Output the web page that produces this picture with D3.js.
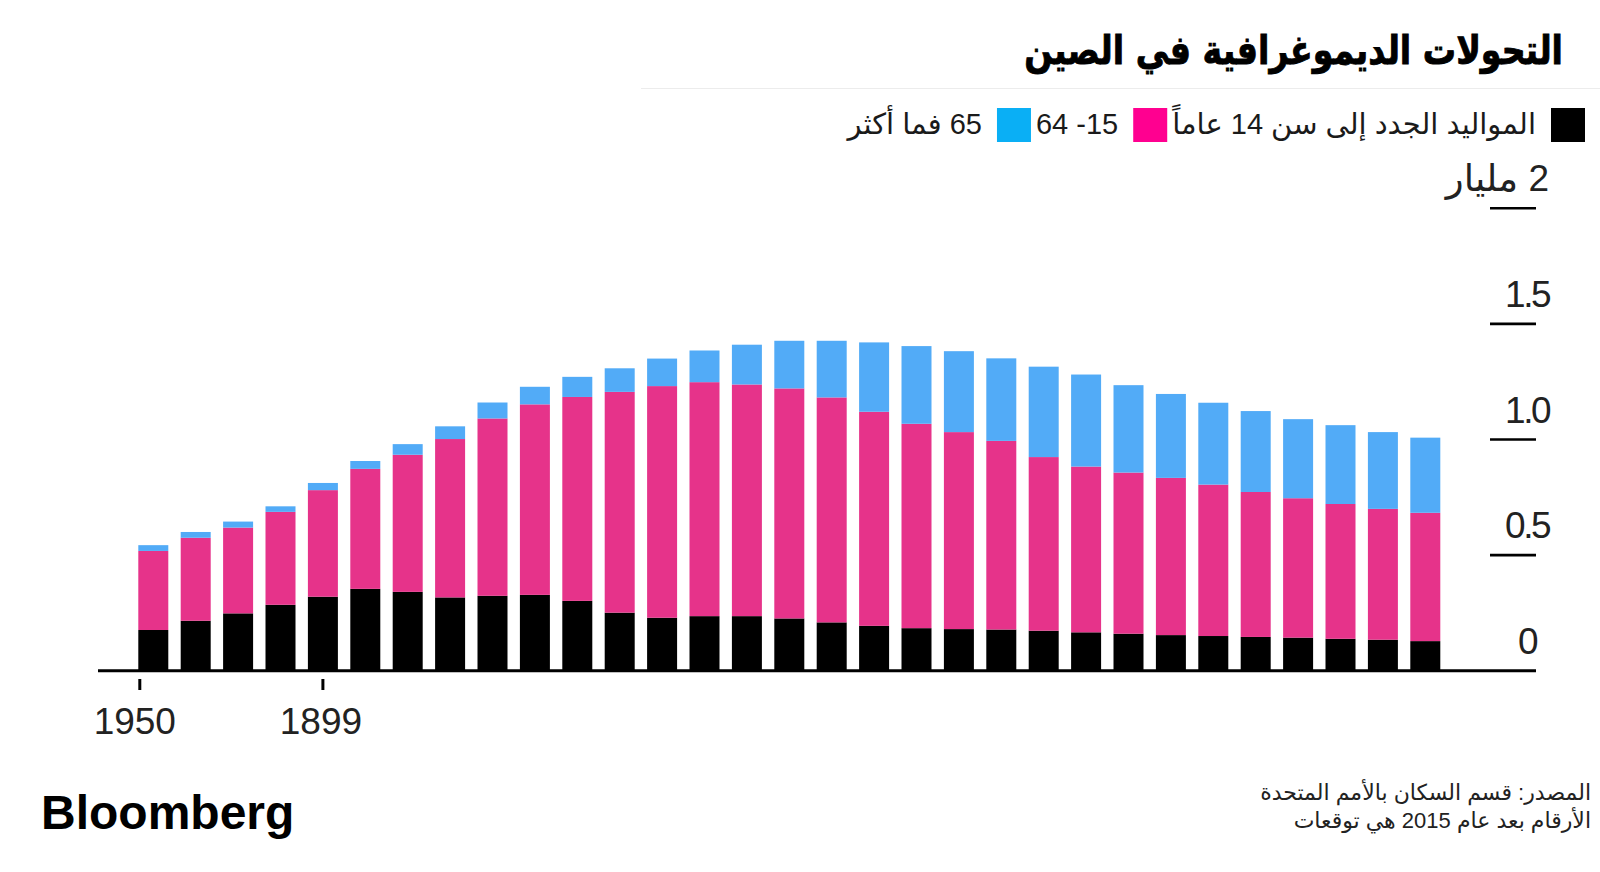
<!DOCTYPE html>
<html lang="ar">
<head>
<meta charset="utf-8">
<script src="https://cdn.jsdelivr.net/npm/d3@7"></script>
<style>
  html, body { margin: 0; padding: 0; background: #fff; }
  svg { display: block; }
  text { font-family: "Liberation Sans", "DejaVu Sans", sans-serif; fill: #1a1a1a; }
</style>
</head>
<body>
<svg id="chart" width="1600" height="872"></svg>
<script>
// ---- data ----
const years = [1950,1955,1960,1965,1970,1975,1980,1985,1990,1995,2000,2005,2010,2015,2020,2025,2030,2035,2040,2045,2050,2055,2060,2065,2070,2075,2080,2085,2090,2095,2100];
const age0to14 = [0.176,0.216,0.248,0.285,0.320,0.354,0.341,0.317,0.324,0.328,0.302,0.251,0.229,0.236,0.236,0.226,0.209,0.194,0.184,0.180,0.178,0.173,0.166,0.160,0.154,0.150,0.146,0.143,0.138,0.134,0.128];
const age15to64 = [0.342,0.359,0.371,0.402,0.461,0.519,0.593,0.685,0.767,0.824,0.882,0.955,1.002,1.012,1.002,0.995,0.973,0.926,0.884,0.852,0.816,0.751,0.717,0.697,0.680,0.655,0.627,0.603,0.583,0.566,0.555];
const age65plus = [0.025,0.025,0.026,0.024,0.031,0.034,0.046,0.055,0.069,0.076,0.087,0.102,0.119,0.137,0.172,0.206,0.245,0.300,0.336,0.350,0.357,0.391,0.398,0.378,0.363,0.354,0.350,0.342,0.341,0.332,0.325];

const seriesKeys = ["young", "working", "old"];
const seriesLabels = ["المواليد الجدد إلى سن 14 عاماً", "15- 64", "65 فما أكثر"];
const barColors = ["#000000", "#e6338a", "#52abf7"];
const legendColors = ["#000000", "#ff0090", "#0aaff5"];

const yTicks = [0, 0.5, 1.0, 1.5, 2];
const yTickLabels = ["0", "0.5", "1.0", "1.5", "2 مليار"];
const xTickLabels = ["1950", "1899"];
const xTickIndex = [0, 4];
const xTickAtCenter = [false, true];

const titleText = "التحولات الديموغرافية في الصين";
const sourceLines = ["المصدر: قسم السكان بالأمم المتحدة", "الأرقام بعد عام 2015 هي توقعات"];

// ---- build ----
const rows = years.map((y, i) => ({ year: String(y), young: age0to14[i], working: age15to64[i], old: age65plus[i] }));
const stacked = d3.stack().keys(seriesKeys)(rows);

const svg = d3.select("#chart");

const x = d3.scaleBand()
  .domain(rows.map(d => d.year))
  .range([138.3, 1440.3])
  .paddingInner(0.2925)
  .paddingOuter(0);

const y = d3.scaleLinear().domain([0, 2]).range([670.7, 208.3]);

// title (condensed horizontally to match the heavy headline face)
const titleG = svg.append("g").attr("transform", "translate(1563,64) scale(0.83,1)");
titleG.append("text")
  .attr("x", 0).attr("y", 0)
  .attr("direction", "rtl")
  .attr("text-anchor", "start")
  .style("font-family", "'DejaVu Sans', sans-serif")
  .style("font-weight", "bold")
  .style("font-size", "40px")
  .style("fill", "#000")
  .style("stroke", "#000")
  .style("stroke-width", "0.9px")
  .text(titleText);

// thin rule under title
svg.append("line")
  .attr("x1", 641).attr("x2", 1600)
  .attr("y1", 88.5).attr("y2", 88.5)
  .attr("stroke", "#ececec").attr("stroke-width", 1);

// legend
const legend = svg.append("g");
let cursor = 1585;
seriesLabels.forEach((lab, i) => {
  const sq = 34;
  legend.append("rect")
    .attr("x", cursor - sq).attr("y", 108)
    .attr("width", sq).attr("height", sq)
    .attr("fill", legendColors[i]);
  const t = legend.append("text")
    .attr("x", cursor - sq - 15).attr("y", 134)
    .attr("direction", "rtl")
    .attr("text-anchor", "start")
    .style("font-size", "29px")
    .text(lab);
  const w = t.node().getComputedTextLength();
  cursor = cursor - sq - 15 - w - 5;
});

// bars
const gBars = svg.append("g");
stacked.forEach((layer, li) => {
  gBars.append("g")
    .attr("fill", barColors[li])
    .selectAll("rect")
    .data(layer)
    .join("rect")
    .attr("x", d => x(d.data.year))
    .attr("width", x.bandwidth())
    .attr("y", d => y(d[1]))
    .attr("height", d => y(d[0]) - y(d[1]));
});

// baseline
svg.append("line")
  .attr("x1", 98).attr("x2", 1536)
  .attr("y1", y(0)).attr("y2", y(0))
  .attr("stroke", "#000").attr("stroke-width", 3);

// y axis (right side, short tick bars with labels above)
const gY = svg.append("g");
yTicks.forEach((v, i) => {
  if (v !== 0) {
    gY.append("line")
      .attr("x1", 1490).attr("x2", 1536)
      .attr("y1", y(v)).attr("y2", y(v))
      .attr("stroke", "#000").attr("stroke-width", 2.6);
  }
  gY.append("text")
    .attr("x", v === 0 ? 1536 : 1549)
    .attr("y", y(v) - 17)
    .attr("direction", "rtl")
    .attr("text-anchor", "start")
    .style("font-size", "37px")
    .style("letter-spacing", "-2.5px")
    .style("fill", "#222")
    .text(yTickLabels[i]);
});

// x ticks
const gX = svg.append("g");
xTickLabels.forEach((lab, i) => {
  const yr = rows[xTickIndex[i]].year;
  const px = x(yr) + (xTickAtCenter[i] ? x.bandwidth() / 2 : 1.5);
  gX.append("line")
    .attr("x1", px).attr("x2", px)
    .attr("y1", 679).attr("y2", 690)
    .attr("stroke", "#000").attr("stroke-width", 3);
  gX.append("text")
    .attr("x", xTickAtCenter[i] ? px - 2 : px - 5).attr("y", 734)
    .attr("text-anchor", "middle")
    .style("font-size", "37px")
    .style("fill", "#222")
    .text(lab);
});

// footer
svg.append("text")
  .attr("x", 41).attr("y", 829)
  .style("font-family", "'Liberation Sans', Arial, sans-serif")
  .style("font-weight", "bold")
  .style("font-size", "48px")
  .style("fill", "#000")
  .text("Bloomberg");

sourceLines.forEach((line, i) => {
  svg.append("text")
    .attr("x", 1591).attr("y", 800 + i * 28)
    .attr("direction", "rtl")
    .attr("text-anchor", "start")
    .style("font-size", "22px")
    .style("fill", "#222")
    .text(line);
});
</script>
</body>
</html>
